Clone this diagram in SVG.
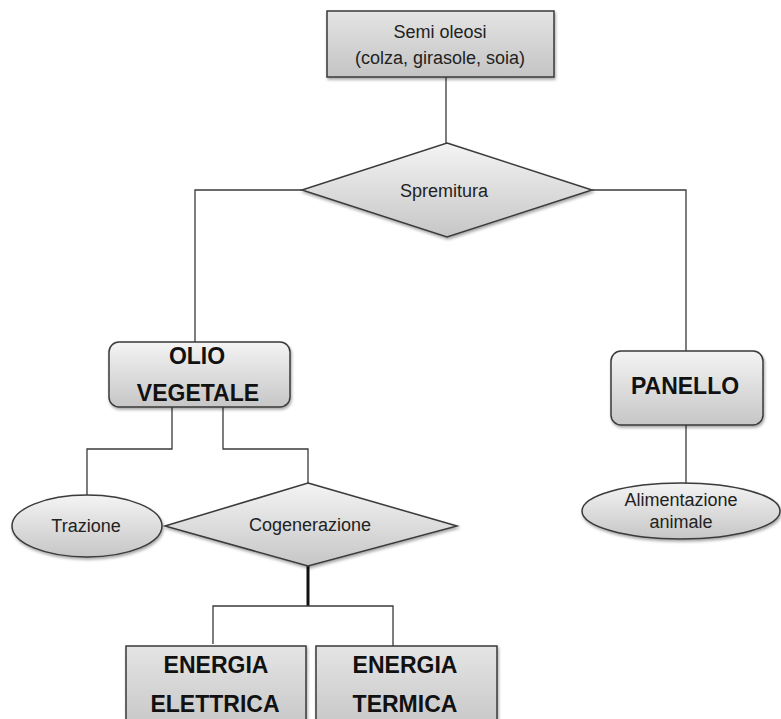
<svg xmlns="http://www.w3.org/2000/svg" width="781" height="719" viewBox="0 0 781 719">
<defs>
<linearGradient id="g" x1="0" y1="0" x2="0" y2="1">
<stop offset="0" stop-color="#f4f4f4"/>
<stop offset="1" stop-color="#c6c6c6"/>
</linearGradient>
<linearGradient id="gr" x1="0" y1="0" x2="0" y2="1">
<stop offset="0" stop-color="#e4e4e4"/>
<stop offset="1" stop-color="#c4c4c4"/>
</linearGradient>
<filter id="sh" x="-10%" y="-10%" width="125%" height="135%">
<feDropShadow dx="1" dy="2" stdDeviation="1.5" flood-color="#000" flood-opacity="0.35"/>
</filter>
</defs>
<style>
.s{stroke:#3a3a3a;stroke-width:1.5;filter:url(#sh)}
.f{fill:url(#g)}
.fr{fill:url(#gr)}
.c{fill:none;stroke:#3a3a3a;stroke-width:1.3}
.t{font-family:"Liberation Sans",Arial,sans-serif;font-size:18px;fill:#222;text-anchor:middle}
.b{font-family:"Liberation Sans",Arial,sans-serif;font-size:23px;font-weight:bold;fill:#111;text-anchor:middle}
</style>
<rect width="781" height="719" fill="#fff"/>
<g id="connectors">
<path class="c" d="M446 77V143"/>
<path class="c" d="M302 190H195V342"/>
<path class="c" d="M592 190H686V351"/>
<path class="c" d="M686 425V483"/>
<path class="c" d="M172 407V449H87V495"/>
<path class="c" d="M223 407V449H308V483"/>
<path d="M308 566V606" fill="none" stroke="#111" stroke-width="3"/>
<path class="c" d="M213 644V606H393V646"/>
</g>
<g id="semi">
<rect class="s fr" x="327" y="11" width="227" height="66"/>
<text class="t" x="440" y="38">Semi oleosi</text>
<text class="t" x="440" y="64">(colza, girasole, soia)</text>
</g>
<g id="spremitura">
<polygon class="s f" points="447,143 592,190 447,237 302,190"/>
<text class="t" x="444" y="197">Spremitura</text>
</g>
<g id="olio">
<rect class="s f" x="109" y="342" width="181" height="65" rx="10"/>
<text class="b" x="197" y="364">OLIO</text>
<text class="b" x="198" y="401">VEGETALE</text>
</g>
<g id="panello">
<rect class="s f" x="611" y="351" width="152" height="74" rx="10"/>
<text class="b" x="685" y="394">PANELLO</text>
</g>
<g id="alimentazione">
<ellipse class="s f" cx="681" cy="511" rx="99" ry="28"/>
<text class="t" x="681" y="506">Alimentazione</text>
<text class="t" x="681" y="528">animale</text>
</g>
<g id="trazione">
<ellipse class="s f" cx="87" cy="526" rx="75" ry="31"/>
<text class="t" x="86" y="532">Trazione</text>
</g>
<g id="cogenerazione">
<polygon class="s f" points="308,483 457,526 308,566 165,526"/>
<text class="t" x="310" y="531">Cogenerazione</text>
</g>
<g id="elettrica">
<rect class="s fr" x="126" y="646" width="180" height="90"/>
<text class="b" x="216" y="673">ENERGIA</text>
<text class="b" x="215" y="712">ELETTRICA</text>
</g>
<g id="termica">
<rect class="s fr" x="316" y="646" width="181" height="90"/>
<text class="b" x="405" y="673">ENERGIA</text>
<text class="b" x="405" y="712">TERMICA</text>
</g>
</svg>
